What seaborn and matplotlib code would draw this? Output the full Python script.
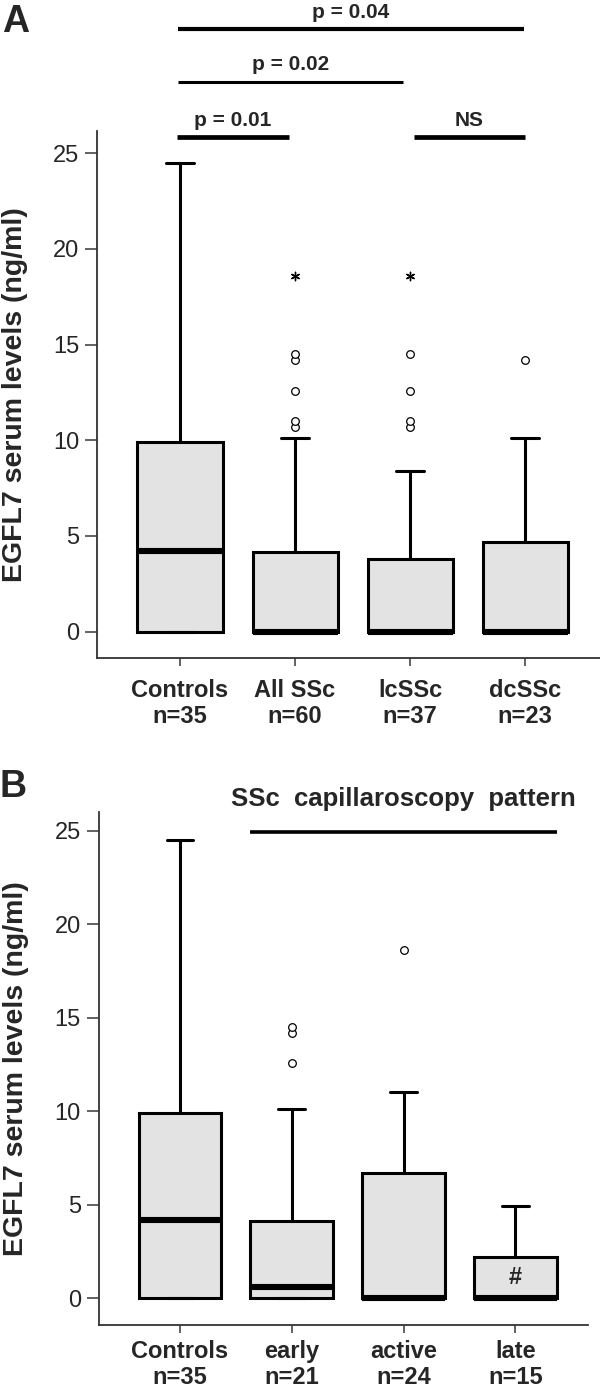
import numpy as np
import pandas as pd
import matplotlib
matplotlib.use("Agg")
import matplotlib.pyplot as plt
import seaborn as sns

# ---- panel A: EGFL7 by disease subset ----
groups_a = ["Controls", "All SSc", "lcSSc", "dcSSc"]
n_a = [35, 60, 37, 23]
q1_a = [0, 0, 0, 0]
med_a = [4.2, 0, 0, 0]
q3_a = [9.9, 4.15, 3.8, 4.7]
hi_a = [24.5, 10.1, 8.4, 10.1]
fliers_a = [[], [10.7, 11.0, 12.6, 14.2, 14.5], [10.7, 11.0, 12.6, 14.5], [14.2]]
extreme_a = [[], [18.6], [18.6], []]

# comparisons above panel A
comp_labels = ["p = 0.01", "p = 0.02", "p = 0.04", "NS"]
comp_x0 = [-0.03, -0.02, -0.02, 2.03]
comp_x1 = [0.95, 1.94, 2.99, 3.0]
comp_y = [25.83, 28.73, 31.46, 25.83]
comp_lw = [3.4, 2.2, 3.0, 3.4]

# ---- panel B: EGFL7 by capillaroscopy pattern ----
groups_b = ["Controls", "early", "active", "late"]
n_b = [35, 21, 24, 15]
q1_b = [0, 0, 0, 0]
med_b = [4.2, 0.6, 0, 0]
q3_b = [9.9, 4.1, 6.7, 2.2]
hi_b = [24.5, 10.1, 11.0, 4.9]
fliers_b = [[], [12.6, 14.2, 14.5], [18.6], []]

BOX_GRAY = "#e3e3e3"


def box_sample(q1, med, q3, hi, fliers):
    # smallest sample (4k+1 points) whose quartiles, upper whisker
    # and outliers are exactly the values
    k = len(fliers) + 1
    return [q1] * (k + 1) + [med] * (2 * k - 1) + [q3, hi] + sorted(fliers)


def long_df(groups, q1, med, q3, hi, fliers):
    rows = []
    for i, g in enumerate(groups):
        for v in box_sample(q1[i], med[i], q3[i], hi[i], fliers[i]):
            rows.append((g, v))
    return pd.DataFrame(rows, columns=["group", "value"])


def draw_boxes(ax, df, groups, counts):
    sns.boxplot(data=df, x="group", y="value", order=groups, ax=ax,
                width=0.74, color=BOX_GRAY, saturation=1, linecolor="black",
                linewidth=2.2, whis=1.5, fliersize=5.5,
                flierprops=dict(marker="o", markerfacecolor="white",
                                markeredgewidth=0.9),
                medianprops=dict(linewidth=4.4))
    # narrower whisker caps as in the original
    for c in ax.containers:
        for cap in getattr(c, "caps", []):
            m = np.mean(cap.get_xdata())
            cap.set_xdata([m - 0.12, m + 0.12])
    ax.set_xticks(range(len(groups)))
    ax.set_xticklabels([f"{g}\nn={n}" for g, n in zip(groups, counts)],
                       fontsize=17, fontweight="bold", linespacing=1.15)
    ax.set_yticks([0, 5, 10, 15, 20, 25])
    ax.tick_params(axis="y", labelsize=17, length=9, width=1.3,
                   color="#555555", pad=4)
    ax.tick_params(axis="x", length=6, width=1.3, color="#555555")
    ax.set_xlabel("")
    ax.set_ylabel("EGFL7 serum levels (ng/ml)", fontsize=20.5,
                  fontweight="bold")
    for s in ["top", "right"]:
        ax.spines[s].set_visible(False)
    for s in ["left", "bottom"]:
        ax.spines[s].set_color("#333333")
        ax.spines[s].set_linewidth(1.3)


sns.set_style("ticks")
plt.rcParams["font.family"] = ["Liberation Sans", "DejaVu Sans"]

fig = plt.figure(figsize=(6, 13.9), dpi=100)
ax_a = fig.add_axes([0.162, 0.5264, 0.838, 0.3794])
ax_b = fig.add_axes([0.165, 0.0468, 0.815, 0.369])

# panel A
df_a = long_df(groups_a, q1_a, med_a, q3_a, hi_a, fliers_a)
draw_boxes(ax_a, df_a, groups_a, n_a)
df_ext = pd.DataFrame([(g, v) for g, vals in zip(groups_a, extreme_a) for v in vals],
                      columns=["group", "value"])
sns.stripplot(data=df_ext, x="group", y="value", order=groups_a, ax=ax_a,
              jitter=False, marker=(6, 2, 0), size=6, color="black",
              linewidth=1.0)
ax_a.set_xlabel("")
ax_a.set_ylabel("EGFL7 serum levels (ng/ml)", fontsize=20.5, fontweight="bold")
ax_a.set_xlim(-0.72, 3.65)
ax_a.set_ylim(-1.39, 26.16)
ax_a.tick_params(axis="x", pad=9)
ax_a.yaxis.set_label_coords(-0.137, 0.5)

for lab, x0, x1, y, lw in zip(comp_labels, comp_x0, comp_x1, comp_y, comp_lw):
    ax_a.plot([x0, x1], [y, y], color="black", lw=lw, clip_on=False,
              solid_capstyle="butt")
    ax_a.text((x0 + x1) / 2, y + 0.6, lab, ha="center", va="baseline",
              fontsize=15, fontweight="bold", clip_on=False)

# panel B
df_b = long_df(groups_b, q1_b, med_b, q3_b, hi_b, fliers_b)
draw_boxes(ax_b, df_b, groups_b, n_b)
ax_b.set_xlim(-0.725, 3.65)
ax_b.set_ylim(-1.44, 26.0)
ax_b.tick_params(axis="x", pad=5)
ax_b.yaxis.set_label_coords(-0.143, 0.5)

ax_b.plot([0.63, 3.37], [24.93, 24.93], color="black", lw=2.6, clip_on=False,
          solid_capstyle="butt")
ax_b.text(2.0, 26.3, "SSc  capillaroscopy  pattern", ha="center",
          va="baseline", fontsize=18.5, fontweight="bold", clip_on=False)
ax_b.text(3, q3_b[3] / 2, "#", ha="center", va="center", fontsize=17,
          fontweight="bold")

fig.text(2 / 600, 1 - 32 / 1390, "A", fontsize=27, fontweight="bold",
         va="baseline")
fig.text(0 / 600, 1 - 797 / 1390, "B", fontsize=27, fontweight="bold",
         va="baseline")

fig.savefig("out.png", dpi=100)
